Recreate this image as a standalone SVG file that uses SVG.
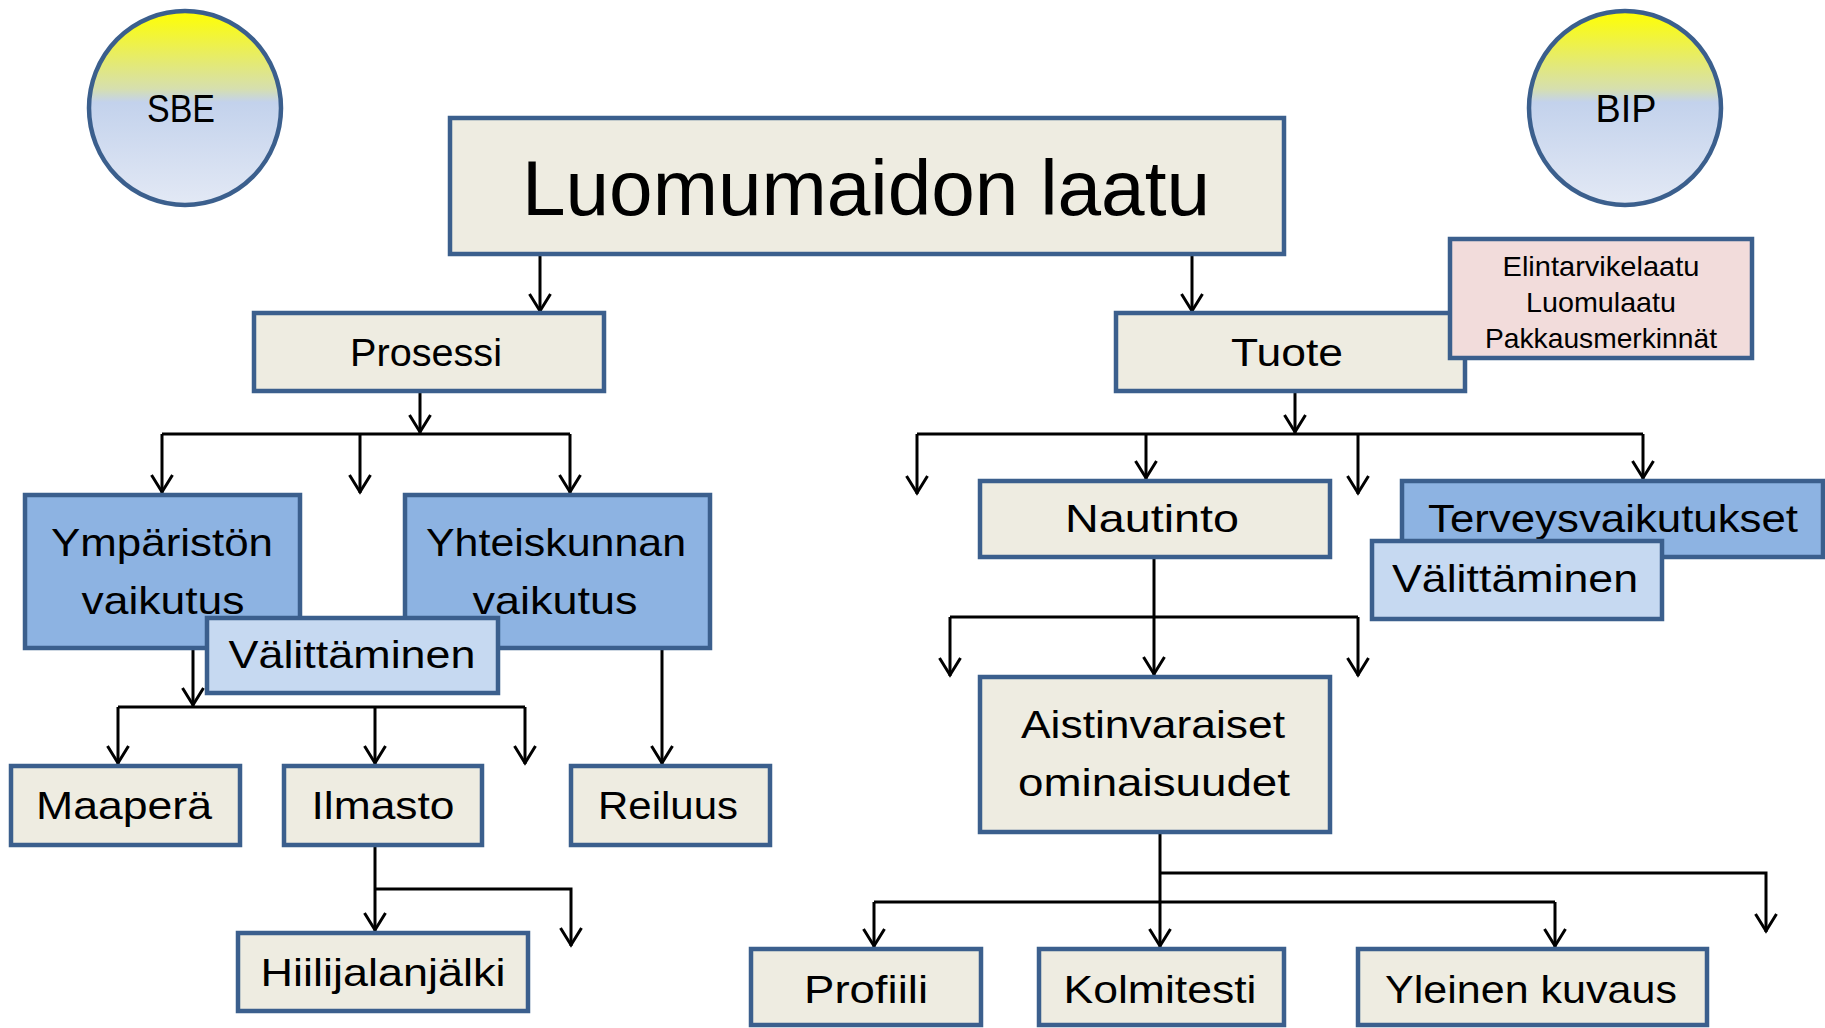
<svg xmlns="http://www.w3.org/2000/svg" width="1825" height="1028" viewBox="0 0 1825 1028">
<style>
.bx{stroke:#3b5f8d;stroke-width:4.5}
.beige{fill:#eeece1}
.blue{fill:#8db3e2}
.lblue{fill:#c6d9f1}
.pink{fill:#f2dcdb}
.t{font-family:"Liberation Sans",Arial,sans-serif;fill:#000;text-anchor:middle;font-size:39px}
.ts{font-size:28px}
.tt{font-size:77px}
.cn{fill:none;stroke:#000;stroke-width:3}
.ar{marker-end:url(#ah)}
</style>
<defs>
<linearGradient id="gr" x1="0" y1="0" x2="0" y2="1">
<stop offset="0" stop-color="#ffff00"/>
<stop offset="0.40" stop-color="#d6dfae"/>
<stop offset="0.47" stop-color="#c3d2ec"/>
<stop offset="1" stop-color="#e3e9f5"/>
</linearGradient>
<marker id="ah" markerUnits="userSpaceOnUse" viewBox="-22 -13 26 26" refX="1" refY="0" markerWidth="26" markerHeight="26" orient="auto" overflow="visible">
<path d="M-17,-10.5 L0,0 L-17,10.5" fill="none" stroke="#000" stroke-width="3"/>
</marker>
</defs>

<g id="connectors">
<path class="cn ar" d="M540,254 V312"/>
<path class="cn ar" d="M1192,254 V312"/>
<path class="cn ar" d="M420,391 V433"/>
<path class="cn" d="M162,434 H570"/>
<path class="cn ar" d="M162,434 V493"/>
<path class="cn ar" d="M360,434 V493"/>
<path class="cn ar" d="M570,434 V493"/>
<path class="cn ar" d="M193,648 V706"/>
<path class="cn" d="M118,707 H525"/>
<path class="cn ar" d="M118,707 V764"/>
<path class="cn ar" d="M375,707 V764"/>
<path class="cn ar" d="M525,707 V764"/>
<path class="cn ar" d="M662,648 V764"/>
<path class="cn ar" d="M375,845 V931"/>
<path class="cn ar" d="M375,889 H571 V946"/>
<path class="cn ar" d="M1295,391 V433"/>
<path class="cn" d="M917,434 H1643"/>
<path class="cn ar" d="M917,434 V494"/>
<path class="cn ar" d="M1146,434 V479"/>
<path class="cn ar" d="M1358,434 V494"/>
<path class="cn ar" d="M1643,434 V479"/>
<path class="cn ar" d="M1154,557 V675"/>
<path class="cn" d="M950,617 H1358"/>
<path class="cn ar" d="M950,617 V676"/>
<path class="cn ar" d="M1358,617 V676"/>
<path class="cn ar" d="M1160,832 V947"/>
<path class="cn ar" d="M1160,873 H1766 V932"/>
<path class="cn" d="M874,902 H1555"/>
<path class="cn ar" d="M874,902 V947"/>
<path class="cn ar" d="M1555,902 V947"/>
</g>

<g id="sbe">
<ellipse class="bx" cx="185" cy="108" rx="96" ry="97" fill="url(#gr)"/>
<text class="t" x="181" y="122" font-size="40" textLength="68" lengthAdjust="spacingAndGlyphs">SBE</text>
</g>
<g id="bip">
<ellipse class="bx" cx="1625" cy="108" rx="96" ry="97" fill="url(#gr)"/>
<text class="t" x="1626" y="122" font-size="40" textLength="61" lengthAdjust="spacingAndGlyphs">BIP</text>
</g>

<g id="title">
<rect class="bx beige" x="450" y="118" width="834" height="136"/>
<text class="t tt" x="866" y="215" textLength="688" lengthAdjust="spacingAndGlyphs">Luomumaidon laatu</text>
</g>

<g id="prosessi">
<rect class="bx beige" x="254" y="313" width="350" height="78"/>
<text class="t" x="426" y="366" textLength="152" lengthAdjust="spacingAndGlyphs">Prosessi</text>
</g>

<g id="tuote">
<rect class="bx beige" x="1116" y="313" width="349" height="78"/>
<text class="t" x="1287" y="366" textLength="112" lengthAdjust="spacingAndGlyphs">Tuote</text>
</g>

<g id="laatuluokat">
<rect class="bx pink" x="1450" y="239" width="302" height="119"/>
<text class="t ts" x="1601" y="276" textLength="197" lengthAdjust="spacingAndGlyphs">Elintarvikelaatu</text>
<text class="t ts" x="1601" y="312" textLength="150" lengthAdjust="spacingAndGlyphs">Luomulaatu</text>
<text class="t ts" x="1601" y="348" textLength="232" lengthAdjust="spacingAndGlyphs">Pakkausmerkinnät</text>
</g>

<g id="ymparisto">
<rect class="bx blue" x="25" y="495" width="275" height="153"/>
<text class="t" x="162" y="556" textLength="222" lengthAdjust="spacingAndGlyphs">Ympäristön</text>
<text class="t" x="163" y="614" textLength="163" lengthAdjust="spacingAndGlyphs">vaikutus</text>
</g>

<g id="yhteiskunta">
<rect class="bx blue" x="405" y="495" width="305" height="153"/>
<text class="t" x="556" y="556" textLength="260" lengthAdjust="spacingAndGlyphs">Yhteiskunnan</text>
<text class="t" x="555" y="614" textLength="165" lengthAdjust="spacingAndGlyphs">vaikutus</text>
</g>

<g id="valittaminen1">
<rect class="bx lblue" x="207" y="618" width="291" height="75"/>
<text class="t" x="352" y="668" textLength="247" lengthAdjust="spacingAndGlyphs">Välittäminen</text>
</g>

<g id="maapera">
<rect class="bx beige" x="11" y="766" width="229" height="79"/>
<text class="t" x="124" y="819" textLength="176" lengthAdjust="spacingAndGlyphs">Maaperä</text>
</g>

<g id="ilmasto">
<rect class="bx beige" x="284" y="766" width="198" height="79"/>
<text class="t" x="383" y="819" textLength="143" lengthAdjust="spacingAndGlyphs">Ilmasto</text>
</g>

<g id="reiluus">
<rect class="bx beige" x="571" y="766" width="199" height="79"/>
<text class="t" x="668" y="819" textLength="140" lengthAdjust="spacingAndGlyphs">Reiluus</text>
</g>

<g id="hiilijalanjalki">
<rect class="bx beige" x="238" y="933" width="290" height="78"/>
<text class="t" x="383" y="986" textLength="245" lengthAdjust="spacingAndGlyphs">Hiilijalanjälki</text>
</g>

<g id="nautinto">
<rect class="bx beige" x="980" y="481" width="350" height="76"/>
<text class="t" x="1152" y="532" textLength="174" lengthAdjust="spacingAndGlyphs">Nautinto</text>
</g>

<g id="terveysvaikutukset">
<rect class="bx blue" x="1402" y="481" width="421" height="76"/>
<text class="t" x="1613" y="532" textLength="370" lengthAdjust="spacingAndGlyphs">Terveysvaikutukset</text>
</g>

<g id="valittaminen2">
<rect class="bx lblue" x="1372" y="541" width="290" height="78"/>
<text class="t" x="1515" y="592" textLength="246" lengthAdjust="spacingAndGlyphs">Välittäminen</text>
</g>

<g id="aistinvaraiset">
<rect class="bx beige" x="980" y="677" width="350" height="155"/>
<text class="t" x="1153" y="738" textLength="264" lengthAdjust="spacingAndGlyphs">Aistinvaraiset</text>
<text class="t" x="1154" y="796" textLength="272" lengthAdjust="spacingAndGlyphs">ominaisuudet</text>
</g>

<g id="profiili">
<rect class="bx beige" x="751" y="949" width="230" height="76"/>
<text class="t" x="866" y="1003" textLength="124" lengthAdjust="spacingAndGlyphs">Profiili</text>
</g>

<g id="kolmitesti">
<rect class="bx beige" x="1039" y="949" width="245" height="76"/>
<text class="t" x="1160" y="1003" textLength="193" lengthAdjust="spacingAndGlyphs">Kolmitesti</text>
</g>

<g id="yleinen">
<rect class="bx beige" x="1358" y="949" width="349" height="76"/>
<text class="t" x="1531" y="1003" textLength="292" lengthAdjust="spacingAndGlyphs">Yleinen kuvaus</text>
</g>
</svg>
